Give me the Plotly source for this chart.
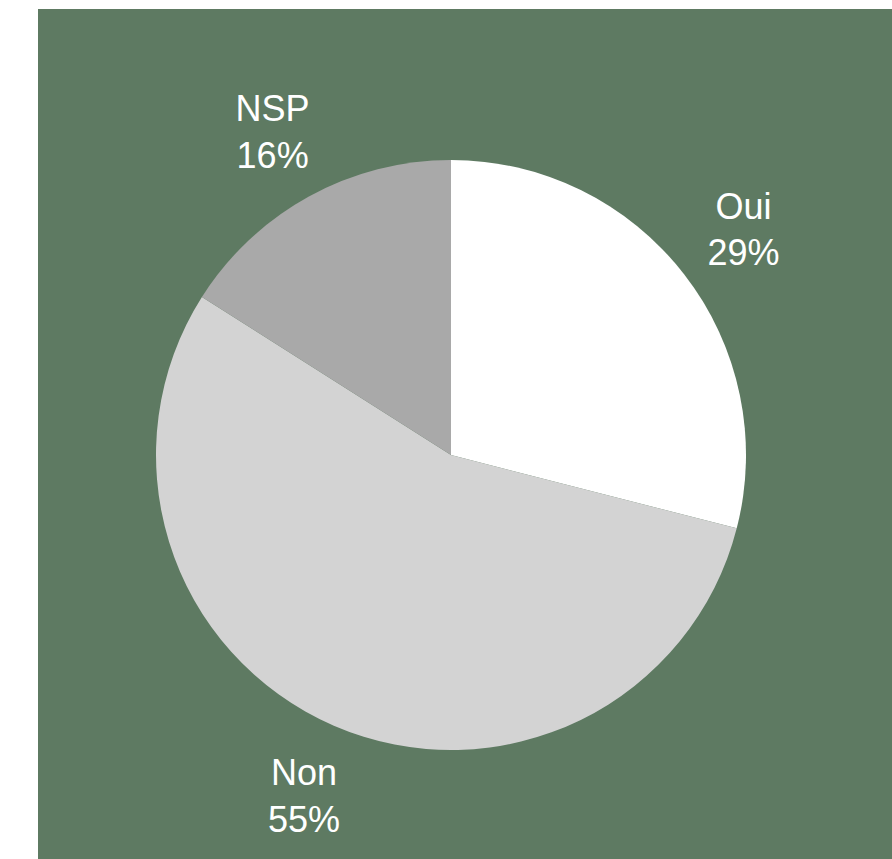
import math
import plotly.graph_objects as go

labels = ["Oui", "Non", "NSP"]
values = [29, 55, 16]
colors = ["#ffffff", "#d3d3d3", "#a9a9a9"]

W, H = 892, 859
ml, mt = 38, 9
pw, ph = W - ml, H - mt
cx, cy, r = 451, 455, 295      # pie centre and radius, in page pixels
label_dist = 1.255             # label distance as a fraction of the radius
label_dy = -5                  # small downward nudge of the label blocks (px)
font = dict(family="Liberation Sans, Arial, sans-serif", size=36, color="#ffffff")

fig = go.Figure()
fig.add_trace(go.Pie(
    labels=labels,
    values=values,
    sort=False,
    direction="clockwise",
    rotation=0,
    marker=dict(colors=colors, line=dict(width=0)),
    textinfo="none",
    showlegend=False,
    hoverinfo="label+percent",
    domain=dict(
        x=[(cx - r - ml) / pw, (cx + r - ml) / pw],
        y=[1 - (cy + r - mt) / ph, 1 - (cy - r - mt) / ph],
    ),
))

# labels placed along each slice's mid-angle, derived from the values
total = sum(values)
lx, ly, ltxt = [], [], []
acc = 0
for lab, v in zip(labels, values):
    mid = (acc + v / 2) / total * 2 * math.pi
    acc += v
    lx.append(label_dist * r * math.sin(mid))
    ly.append(label_dist * r * math.cos(mid) + label_dy)
    ltxt.append(f"{lab}<br>{round(v / total * 100)}%")

fig.add_trace(go.Scatter(
    x=lx, y=ly, text=ltxt, mode="text",
    textposition="middle center", textfont=font,
    showlegend=False, hoverinfo="skip",
))

fig.update_layout(
    width=W, height=H,
    margin=dict(l=ml, r=0, t=mt, b=0),
    paper_bgcolor="#ffffff",
    plot_bgcolor="#5e7a62",
    xaxis=dict(range=[ml - cx, W - cx], visible=False, fixedrange=True),
    yaxis=dict(range=[cy - H, cy - mt], visible=False, fixedrange=True),
    font=dict(family="Liberation Sans, Arial, sans-serif"),
)

fig.write_html(
    "out.html",
    config={"displayModeBar": False},
    post_script="document.body.style.margin='0';document.body.style.overflow='hidden';",
)
